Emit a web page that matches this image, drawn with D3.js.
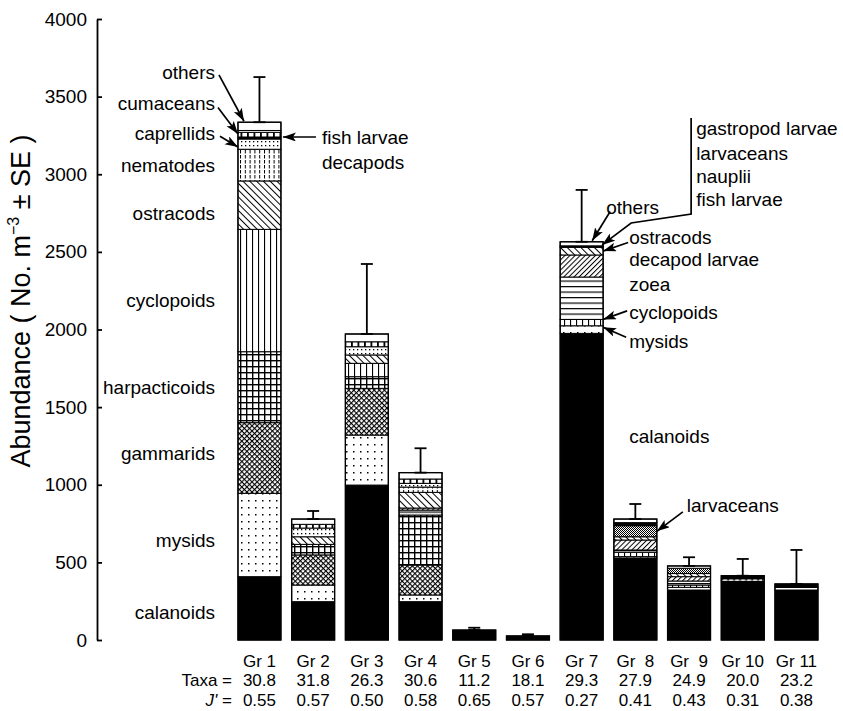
<!DOCTYPE html>
<html>
<head>
<meta charset="utf-8">
<script src="https://cdn.jsdelivr.net/npm/d3@7"></script>
<style>
  body { margin: 0; background: #fff; }
  text { font-family: "Liberation Sans", Arial, Helvetica, sans-serif; fill: #000; }
</style>
</head>
<body>
<svg id="chart" width="843" height="711"></svg>
<script>
// Groups and per-group summary statistics
const groups = ["Gr 1", "Gr 2", "Gr 3", "Gr 4", "Gr 5", "Gr 6", "Gr 7", "Gr  8", "Gr  9", "Gr 10", "Gr 11"];
const taxaCount = ["30.8", "31.8", "26.3", "30.6", "11.2", "18.1", "29.3", "27.9", "24.9", "20.0", "23.2"];
const evenness = ["0.55", "0.57", "0.50", "0.58", "0.65", "0.57", "0.27", "0.41", "0.43", "0.31", "0.38"];

// Abundance (No. m^-3) of each taxon per group, bottom of the stack first
const calanoids     = [408, 247, 998, 247, 64, 26, 1975, 528, 322, 380, 322];
const mysids        = [537, 107, 322, 43, 0, 0, 49, 9, 17, 0, 17];
const gammarids     = [455, 194, 301, 193, 0, 0, 0, 0, 0, 0, 0];
const harpacticoids = [457, 68, 75, 322, 0, 0, 0, 0, 0, 0, 0];
const cyclopoids    = [788, 0, 86, 0, 0, 0, 41, 28, 15, 12, 0];
const zoea          = [0, 0, 0, 32, 0, 0, 273, 15, 26, 0, 0];
const decapodLarvae = [0, 0, 0, 13, 0, 0, 142, 64, 28, 0, 0];
const ostracods     = [312, 49, 54, 101, 0, 0, 49, 21, 20, 0, 0];
const nematodes     = [204, 0, 0, 34, 0, 0, 0, 0, 0, 0, 0];
const caprellids    = [66, 56, 53, 24, 0, 0, 0, 0, 0, 0, 0];
const larvaceans    = [0, 0, 0, 0, 0, 0, 5, 71, 34, 0, 0];
const fishLarvae    = [13, 0, 0, 0, 0, 0, 5, 20, 0, 22, 22];
const decapods      = [30, 24, 32, 28, 0, 0, 0, 0, 0, 0, 0];
const cumaceans     = [12, 0, 0, 0, 0, 0, 0, 0, 0, 0, 0];
const others        = [53, 34, 50, 41, 0, 0, 26, 23, 15, 0, 0];

// Standard error of total abundance
const totalSE = [291, 52, 451, 157, 15, 11, 334, 97, 56, 108, 219];

// Y axis ticks
const yTicks = [0, 500, 1000, 1500, 2000, 2500, 3000, 3500, 4000];

const series = [
  ["calanoids", calanoids], ["mysids", mysids], ["gammarids", gammarids],
  ["harpacticoids", harpacticoids], ["cyclopoids", cyclopoids], ["zoea", zoea],
  ["decapod larvae", decapodLarvae], ["ostracods", ostracods], ["nematodes", nematodes],
  ["caprellids", caprellids], ["larvaceans", larvaceans], ["fish larvae", fishLarvae],
  ["decapods", decapods], ["cumaceans", cumaceans], ["others", others]
];
const keys = series.map(s => s[0]);
const rows = groups.map((g, i) => {
  const r = { group: g };
  series.forEach(([k, arr]) => { r[k] = arr[i]; });
  return r;
});

const svg = d3.select("#chart");
const defs = svg.append("defs");

// ---- hatch / dot patterns for the taxa ----
function pat(id, w, h, draw, transform) {
  const p = defs.append("pattern").attr("id", id)
    .attr("patternUnits", "userSpaceOnUse").attr("width", w).attr("height", h);
  if (transform) p.attr("patternTransform", transform);
  p.append("rect").attr("width", w).attr("height", h).attr("fill", "#fff");
  draw(p);
}
pat("p-sparse", 7, 7, p => p.append("rect").attr("x", 3).attr("y", 3).attr("width", 1.5).attr("height", 1.5).attr("fill", "#000"));
pat("p-cross", 3.6, 3.6, p => {
  p.append("rect").attr("x", 0).attr("y", 0).attr("width", 1.1).attr("height", 3.6).attr("fill", "#000");
  p.append("rect").attr("x", 0).attr("y", 0).attr("width", 3.6).attr("height", 1.1).attr("fill", "#000");
}, "rotate(45)");
pat("p-grid", 6, 6, p => {
  p.append("rect").attr("x", 0).attr("y", 0).attr("width", 1.4).attr("height", 6).attr("fill", "#000");
  p.append("rect").attr("x", 0).attr("y", 0).attr("width", 6).attr("height", 1.4).attr("fill", "#000");
});
pat("p-vert", 6, 6, p => p.append("rect").attr("x", 0).attr("y", 0).attr("width", 1.1).attr("height", 6).attr("fill", "#000"));
pat("p-back", 4.8, 4.8, p => p.append("rect").attr("x", 0).attr("y", 0).attr("width", 1).attr("height", 4.8).attr("fill", "#000"), "rotate(-45)");
pat("p-fwd", 3.6, 3.6, p => p.append("rect").attr("x", 0).attr("y", 0).attr("width", 1).attr("height", 3.6).attr("fill", "#000"), "rotate(45)");
pat("p-vdash", 4.8, 5, p => p.append("rect").attr("x", 0).attr("y", 0).attr("width", 1).attr("height", 3.5).attr("fill", "#000"));
pat("p-dense", 4, 4, p => p.append("rect").attr("x", 1).attr("y", 1).attr("width", 1.3).attr("height", 1.3).attr("fill", "#000"));
pat("p-ticks", 6.5, 10, p => p.append("rect").attr("x", 0).attr("y", 0).attr("width", 1.8).attr("height", 10).attr("fill", "#000"));
pat("p-horiz", 10, 5.5, p => p.append("rect").attr("x", 0).attr("y", 0).attr("width", 10).attr("height", 1.2).attr("fill", "#000"));
pat("p-stip", 2, 2, p => {
  p.append("rect").attr("x", 0).attr("y", 0).attr("width", 1).attr("height", 1).attr("fill", "#000");
  p.append("rect").attr("x", 1).attr("y", 1).attr("width", 1).attr("height", 1).attr("fill", "#000");
});

const fills = {
  "calanoids": "#000", "mysids": "url(#p-sparse)", "gammarids": "url(#p-cross)",
  "harpacticoids": "url(#p-grid)", "cyclopoids": "url(#p-vert)", "zoea": "url(#p-horiz)",
  "decapod larvae": "url(#p-fwd)", "ostracods": "url(#p-back)", "nematodes": "url(#p-vdash)",
  "caprellids": "url(#p-dense)", "larvaceans": "url(#p-stip)", "fish larvae": "#000",
  "decapods": "url(#p-ticks)", "cumaceans": "#fff", "others": "#fff"
};

// arrowhead marker
defs.append("marker").attr("id", "arrow")
  .attr("markerUnits", "userSpaceOnUse").attr("markerWidth", 16).attr("markerHeight", 10)
  .attr("refX", 13).attr("refY", 4.5).attr("orient", "auto")
  .append("path").attr("d", "M0,0 L13,4.5 L0,9 L3,4.5 Z").attr("fill", "#000");

// ---- scales ----
const y = d3.scaleLinear().domain([0, 4000]).range([640, 19]);
const x = d3.scaleBand().domain(groups).range([232.6, 823.3]).paddingInner(0.2).paddingOuter(0.1);
const bw = x.bandwidth();

// ---- y axis ----
const yAxis = d3.axisLeft(y).tickValues(yTicks).tickFormat(d3.format("d"))
  .tickSizeInner(-5).tickSizeOuter(0).tickPadding(10);
const ax = svg.append("g").attr("transform", "translate(97,0)").call(yAxis);
ax.select(".domain").attr("stroke-width", 1.8);
ax.selectAll(".tick line").attr("stroke-width", 1.8);
ax.selectAll(".tick text").attr("font-size", 19).attr("font-family", "Liberation Sans, Arial, sans-serif");

svg.append("text")
  .attr("transform", "translate(30,301) rotate(-90)")
  .attr("text-anchor", "middle")
  .attr("font-size", 27)
  .call(t => {
    t.append("tspan").text("Abundance ( No. m");
    t.append("tspan").attr("font-size", 16).attr("dy", -11).text("−3");
    t.append("tspan").attr("dy", 11).text(" ± SE )");
  });

// ---- stacked bars ----
const stacked = d3.stack().keys(keys)(rows);
const layers = svg.append("g").selectAll("g").data(stacked).join("g")
  .attr("fill", d => fills[d.key]);
layers.selectAll("rect").data(d => d.filter(s => s[1] > s[0])).join("rect")
  .attr("x", d => x(d.data.group))
  .attr("y", d => y(d[1]))
  .attr("width", bw)
  .attr("height", d => y(d[0]) - y(d[1]))
  .attr("stroke", "#000").attr("stroke-width", 1);

// white dashed line marking the thin cyclopoid layer inside solid bars
svg.append("g").selectAll("line").data(stacked.find(s => s.key === "cyclopoids").filter(s => s.data.group === "Gr 10"))
  .join("line")
  .attr("x1", d => x(d.data.group) + 2).attr("x2", d => x(d.data.group) + bw - 2)
  .attr("y1", d => y((d[0] + d[1]) / 2)).attr("y2", d => y((d[0] + d[1]) / 2))
  .attr("stroke", "#fff").attr("stroke-width", 1.2).attr("stroke-dasharray", "4,2");

// outer outline of each bar
const totals = rows.map(r => d3.sum(keys, k => r[k]));
svg.append("g").selectAll("rect").data(groups).join("rect")
  .attr("x", g => x(g)).attr("y", (g, i) => y(totals[i]))
  .attr("width", bw).attr("height", (g, i) => y(0) - y(totals[i]))
  .attr("fill", "none").attr("stroke", "#000").attr("stroke-width", 1.3);

// ---- error bars (+1 SE) ----
const eb = svg.append("g").attr("stroke", "#000").attr("stroke-width", 1.8);
groups.forEach((g, i) => {
  const cx = x(g) + bw / 2, y0 = y(totals[i]), y1 = y(totals[i] + totalSE[i]);
  eb.append("line").attr("x1", cx).attr("x2", cx).attr("y1", y0).attr("y2", y1);
  eb.append("line").attr("x1", cx - 6).attr("x2", cx + 6).attr("y1", y1).attr("y2", y1);
  eb.append("line").attr("x1", cx - 6).attr("x2", cx + 6).attr("y1", y0).attr("y2", y0);
});

// ---- group labels and diversity rows ----
const bottom = svg.append("g").attr("font-size", 17).attr("text-anchor", "middle");
groups.forEach((g, i) => {
  const cx = x(g) + bw / 2;
  bottom.append("text").attr("x", cx).attr("y", 667).attr("xml:space", "preserve").style("white-space", "pre").text(g);
  bottom.append("text").attr("x", cx).attr("y", 686).text(taxaCount[i]);
  bottom.append("text").attr("x", cx).attr("y", 706).text(evenness[i]);
});
bottom.append("text").attr("x", 232).attr("y", 686).attr("text-anchor", "end").text("Taxa =");
bottom.append("text").attr("x", 232).attr("y", 706).attr("text-anchor", "end")
  .call(t => { t.append("tspan").attr("font-style", "italic").text("J'"); t.append("tspan").text(" ="); });

// ---- annotations ----
const ann = svg.append("g").attr("font-size", 19);
function label(tx, v, txt, anchor) {
  ann.append("text").attr("x", tx).attr("y", y(v)).attr("dy", "0.35em")
    .attr("text-anchor", anchor || "start").text(txt);
}
function arrow(pts) {
  ann.append("path").attr("d", d3.line()(pts)).attr("fill", "none")
    .attr("stroke", "#000").attr("stroke-width", 1.7).attr("marker-end", "url(#arrow)");
}

// Gr 1 taxa (left side)
const g1L = x("Gr 1"), g1R = g1L + bw;
[["others", 3659], ["cumaceans", 3459], ["caprellids", 3266], ["nematodes", 3060],
 ["ostracods", 2750], ["cyclopoids", 2190], ["harpacticoids", 1630], ["gammarids", 1204],
 ["mysids", 644], ["calanoids", 180]].forEach(([t, v]) => label(g1L - 23, v, t, "end"));
arrow([[g1L - 19, y(3640)], [g1L + 6, y(3335) - 1]]);
arrow([[g1L - 20, y(3430)], [g1L, y(3259)]]);
arrow([[g1L - 18, y(3245)], [g1L, y(3175)]]);
label(g1R + 41, 3240, "fish larvae");
label(g1R + 41, 3079, "decapods");
arrow([[g1R + 35, y(3240)], [g1R + 2, y(3240)]]);

// Gr 7 taxa (right side)
const g7L = x("Gr 7"), g7R = g7L + bw;
[["ostracods", 2596], ["decapod larvae", 2454], ["zoea", 2293], ["cyclopoids", 2113],
 ["mysids", 1926], ["calanoids", 1314]].forEach(([t, v]) => label(g7R + 26, v, t));
label(g7L + 46, 2789, "others");
arrow([[g7L + 50, y(2760)], [g7L + 32, y(2565) - 1]]);
arrow([[g7R + 25, y(2560)], [g7R, y(2505)]]);
arrow([[g7R + 24, y(2120)], [g7R, y(2065)]]);
arrow([[g7R + 23, y(1950)], [g7R, y(2015)]]);
[["gastropod larvae", 3298], ["larvaceans", 3137], ["nauplii", 2989], ["fish larvae", 2841]]
  .forEach(([t, v]) => label(g7R + 93, v, t));
arrow([[g7R + 88, y(3362)], [g7R + 88, y(2744)], [g7R + 28, y(2686)], [g7R - 1, y(2545)]]);

// Gr 8 larvaceans
const g8R = x("Gr  8") + bw;
label(g8R + 30, 870, "larvaceans");
arrow([[g8R + 26, y(825)], [g8R, y(700)]]);
</script>
</body>
</html>
